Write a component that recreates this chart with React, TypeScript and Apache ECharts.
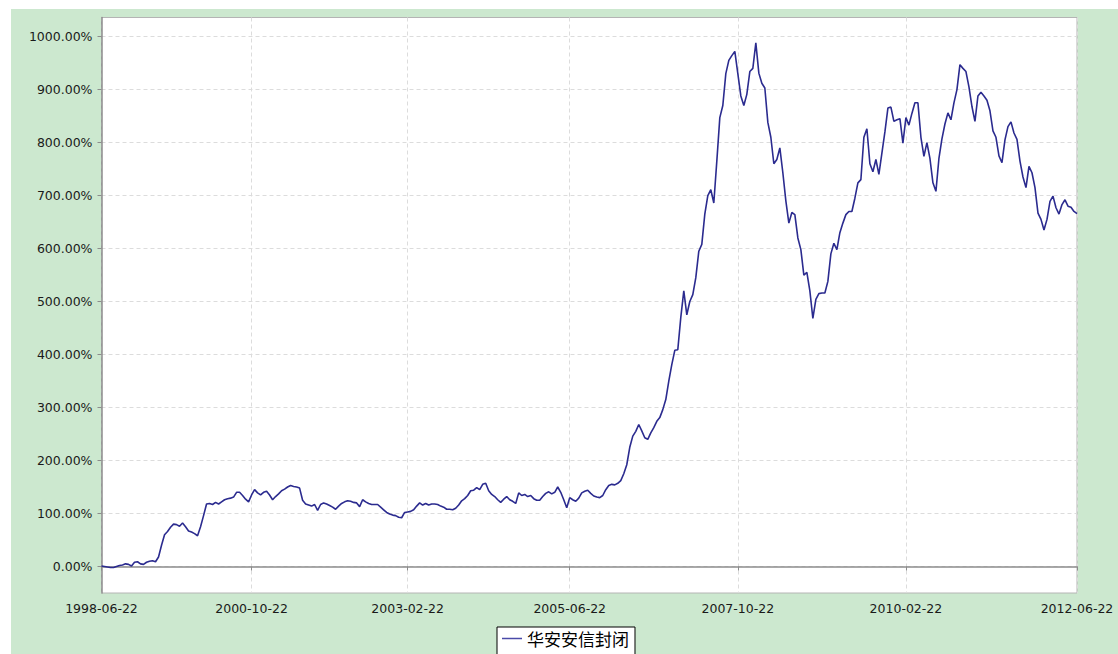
import React, { useEffect, useRef } from "react";
import * as echarts from "echarts";

const seriesName = "华安安信封闭";

const xTickLabels = ["1998-06-22", "2000-10-22", "2003-02-22", "2005-06-22", "2007-10-22", "2010-02-22", "2012-06-22"];
const xTickIndex = [0, 50, 102, 156, 212, 268, 325];

const yTickValues = [0, 100, 200, 300, 400, 500, 600, 700, 800, 900, 1000];

// cumulative return (%), one point per period
const values1 = [
  1, 0, -1, -2, -2, 0, 2, 3, 5, 4, 1, 8, 9, 5, 4, 8, 10, 11, 9, 18,
  40, 60, 66, 74, 80, 79, 76, 82, 75, 67, 65, 62, 58, 75, 96, 118, 119, 117, 121, 118,
  122, 126, 128, 129, 131, 140, 140, 134, 127, 122, 135, 145, 139, 135, 140, 142, 135, 126, 132, 137,
  143, 146, 150, 153, 151, 150, 148, 125, 118, 116, 114, 117, 106, 117, 120, 118, 115, 112, 108, 114,
  119, 122, 124, 123, 121, 120, 113, 126, 122, 119, 117, 117, 117, 112, 107, 102, 99, 97, 96, 93,
];
const values2 = [
  92, 102, 103, 104, 107, 114, 120, 116, 119, 116, 118, 118, 117, 114, 112, 108, 108, 107, 110, 116,
  124, 128, 134, 143, 144, 149, 145, 155, 157, 143, 136, 132, 126, 121, 127, 132, 126, 123, 119, 139,
  134, 136, 132, 134, 128, 125, 125, 132, 138, 141, 137, 140, 150, 140, 126, 111, 130, 126, 123, 129,
  139, 142, 144, 138, 133, 131, 130, 134, 145, 153, 155, 154, 157, 162, 175, 192, 225, 246, 255, 268,
  256, 243, 240, 252, 262, 274, 281, 296, 315, 350, 381, 408, 409, 470, 520, 475, 500, 513, 545, 595,
];
const values3 = [
  608, 665, 700, 711, 686, 765, 847, 870, 930, 955, 964, 972, 930, 888, 870, 891, 934, 940, 988, 931,
  912, 903, 838, 810, 760, 768, 790, 743, 690, 648, 668, 664, 620, 598, 550, 555, 520, 468, 504, 515,
  516, 516, 538, 590, 610, 598, 630, 648, 664, 670, 670, 695, 724, 730, 810, 826, 760, 745, 768, 740,
  780, 820, 865, 867, 840, 843, 845, 799, 847, 833, 855, 875, 875, 810, 774, 800, 770, 724, 708, 770,
  807, 835, 856, 843, 875, 900, 947, 940, 934, 905, 868, 840, 888, 895, 888, 880, 860, 822, 810, 775,
  762, 805, 830, 839, 818, 806, 765, 735, 715, 755, 743, 715, 667, 655, 635, 655, 689, 699, 677, 665,
  683, 692, 680, 678, 670, 666,
];

const values = [...values1, ...values2, ...values3];

export default function App() {
  const ref = useRef<HTMLDivElement>(null);

  useEffect(() => {
    if (!ref.current) return;
    const chart = echarts.init(ref.current, undefined, { renderer: "svg" });
    const tickSet = new Set(xTickIndex);
    const categories = values.map((_, i) => {
      const k = xTickIndex.indexOf(i);
      return k >= 0 ? xTickLabels[k] : String(i);
    });
    const showTick = (index: number) => tickSet.has(index);
    const font = "'DejaVu Sans', Verdana, sans-serif";

    chart.setOption({
      animation: false,
      backgroundColor: "#ffffff",
      graphic: [
        {
          type: "rect",
          z: -10,
          silent: true,
          shape: { x: 11, y: 9, width: 1107, height: 645 },
          style: { fill: "#cce8cf" },
        },
      ],
      grid: {
        left: 101.5,
        top: 17.5,
        right: 41,
        bottom: 61,
        show: true,
        backgroundColor: "#ffffff",
        borderColor: "#b4b4b4",
        borderWidth: 1,
        containLabel: false,
      },
      legend: {
        left: 497,
        top: 627,
        backgroundColor: "#ffffff",
        borderColor: "#000000",
        borderWidth: 1,
        borderRadius: 0,
        padding: [3, 6, 8, 5],
        icon: "rect",
        itemWidth: 20,
        itemHeight: 1.5,
        itemGap: 4,
        itemStyle: { color: "#4a4aa8" },
        textStyle: { fontSize: 17, color: "#000000", fontFamily: "'Noto Sans CJK SC', sans-serif" },
        data: [seriesName],
      },
      xAxis: {
        type: "category",
        data: categories,
        boundaryGap: false,
        axisLine: { show: true, lineStyle: { color: "#8c8c8c", width: 1.5 } },
        axisTick: { show: true, interval: showTick, length: 4, lineStyle: { color: "#8c8c8c" } },
        axisLabel: {
          interval: showTick,
          margin: 9,
          color: "#1a1a1a",
          fontSize: 12.5,
          fontFamily: font,
          showMinLabel: true,
          showMaxLabel: true,
        },
        splitLine: { show: true, interval: showTick, lineStyle: { color: "#dcdcdc", type: [4, 3] } },
      },
      yAxis: {
        type: "value",
        min: -50,
        max: 1036,
        axisLine: { show: true, lineStyle: { color: "#8c8c8c", width: 1.5 } },
        axisTick: { show: true, length: 4, customValues: yTickValues, lineStyle: { color: "#8c8c8c" } },
        axisLabel: {
          customValues: yTickValues,
          margin: 9,
          color: "#1a1a1a",
          fontSize: 12.5,
          fontFamily: font,
          formatter: (v: number) => v.toFixed(2) + "%",
        },
        splitLine: { show: true, lineStyle: { color: "#dcdcdc", type: [4, 3] } },
      },
      series: [
        {
          name: seriesName,
          type: "line",
          data: values,
          symbol: "none",
          showSymbol: false,
          lineStyle: { color: "#2b2b8f", width: 1.6 },
          itemStyle: { color: "#2b2b8f" },
        },
      ],
    });
    return () => chart.dispose();
  }, []);

  return (
    <div
      ref={ref}
      style={{ position: "absolute", left: 0, top: 0, width: 1118, height: 654 }}
    />
  );
}
